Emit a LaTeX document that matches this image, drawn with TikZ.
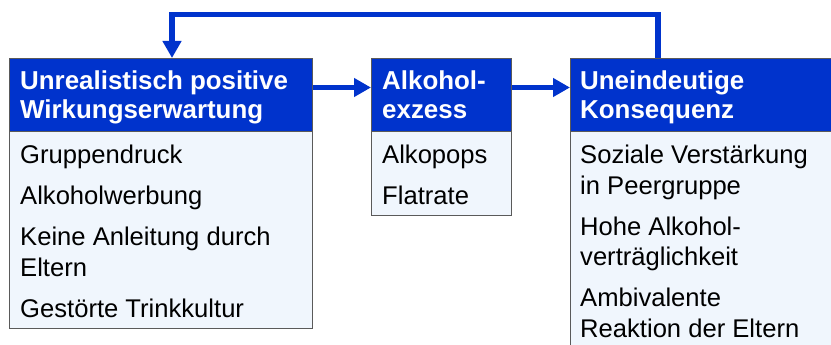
\documentclass[tikz,border=0pt]{standalone}
\usepackage{fontspec}
\setmainfont{Liberation Sans}
\usetikzlibrary{arrows.meta}
\definecolor{hblue}{RGB}{0,51,204}
\definecolor{bodyfill}{RGB}{240,246,253}
\definecolor{edgegray}{RGB}{90,90,90}
\tikzset{
  hdr/.style={draw=edgegray, line width=1.2pt, fill=hblue, anchor=north west, inner sep=0pt},
  bodybox/.style={draw=edgegray, line width=1.2pt, fill=bodyfill, anchor=north west, inner sep=0pt},
  htxt/.style={anchor=base west, inner sep=0pt, text=white, font=\fontsize{25.9}{29}\selectfont\bfseries},
  btxt/.style={anchor=base west, inner sep=0pt, text=black, font=\fontsize{25.6}{31}\selectfont},
  arr/.style={draw=hblue, line width=5.5pt, line join=miter, -{Triangle[length=17pt,width=18pt]}}
}
\begin{document}
\begin{tikzpicture}[x=1pt,y=-1pt]
\useasboundingbox (0,0) rectangle (831,345);
\clip (0,0) rectangle (831,345);
\fill[white] (0,0) rectangle (831,345);
% bodies
\node[bodybox, minimum width=303pt, minimum height=197pt] (b1) at (9,131) {};
\node[bodybox, minimum width=140pt, minimum height=84pt] (b2) at (371,131) {};
\node[bodybox, minimum width=290pt, minimum height=240pt] (b3) at (570,131) {};
% headers
\node[hdr, minimum width=303pt, minimum height=73pt] (h1) at (9,58) {};
\node[hdr, minimum width=140pt, minimum height=73pt] (h2) at (371,58) {};
\node[hdr, minimum width=290pt, minimum height=73pt] (h3) at (570,58) {};
% header texts
\node[htxt] (h1a) at (20,90) {Unrealistisch positive};
\node[htxt] (h1b) at (20,119) {Wirkungserwartung};
\node[htxt] (h2a) at (382,90) {Alkohol-};
\node[htxt] (h2b) at (382,119) {exzess};
\node[htxt] (h3a) at (580,90) {Uneindeutige};
\node[htxt] (h3b) at (580,119) {Konsequenz};
% body texts
\node[btxt] (t1a) at (20,163) {Gruppendruck};
\node[btxt] (t1b) at (20,204) {Alkoholwerbung};
\node[btxt] (t1c) at (20,245) {Keine Anleitung durch};
\node[btxt] (t1d) at (20,276) {Eltern};
\node[btxt] (t1e) at (20,317) {Gestörte Trinkkultur};
\node[btxt] (t2a) at (382,163) {Alkopops};
\node[btxt] (t2b) at (382,204) {Flatrate};
\node[btxt] (t3a) at (580,163) {Soziale Verstärkung};
\node[btxt] (t3b) at (580,194) {in Peergruppe};
\node[btxt] (t3c) at (580,235) {Hohe Alkohol-};
\node[btxt] (t3d) at (580,265) {verträglichkeit};
\node[btxt] (t3e) at (580,306) {Ambivalente};
\node[btxt] (t3f) at (580,337) {Reaktion der Eltern};
% connectors
\coordinate (ay) at (0,87.5);
\draw[arr] (h1.east |- ay) -- (h2.west |- ay);
\draw[arr] (h2.east |- ay) -- (h3.west |- ay);
\coordinate (lr) at (658,14.5);
\coordinate (ll) at (172,14.5);
\draw[arr] (h3.north -| lr) -- (lr) -- (ll) -- (h1.north -| ll);
\end{tikzpicture}
\end{document}
